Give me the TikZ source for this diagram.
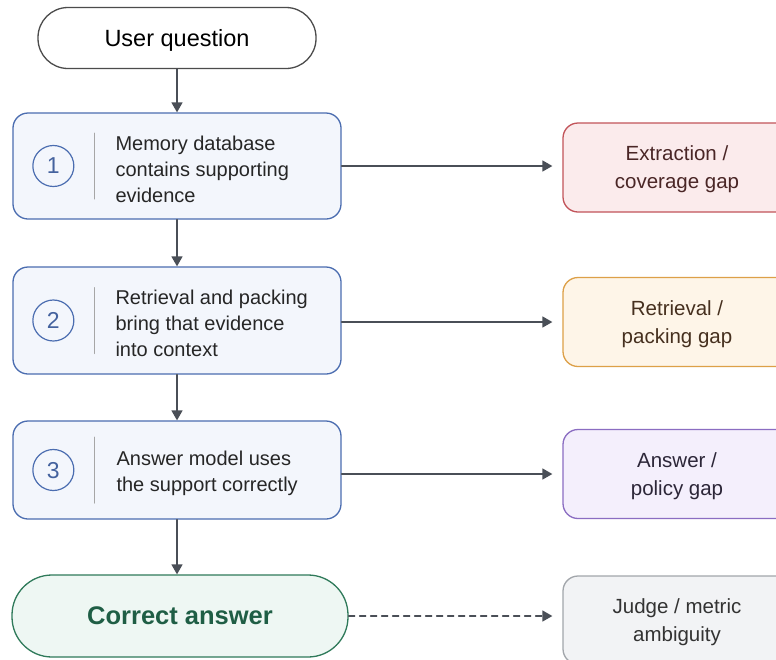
\documentclass[tikz,border=0pt]{standalone}
\usepackage{fontspec}
\setmainfont{Liberation Sans}
\usetikzlibrary{arrows.meta}
\definecolor{arrowgray}{HTML}{4A4F57}
\definecolor{stepblue}{HTML}{4B6DB0}
\definecolor{stepfill}{HTML}{F3F6FC}
\definecolor{okgreen}{HTML}{2F7A5A}
\definecolor{okfill}{HTML}{EEF7F3}
\definecolor{okText}{HTML}{1F5E45}
\definecolor{redline}{HTML}{C2545A}
\definecolor{redfill}{HTML}{FBEBEC}
\definecolor{redtext}{HTML}{4A2626}
\definecolor{orangeline}{HTML}{DDA048}
\definecolor{orangefill}{HTML}{FEF5E8}
\definecolor{orangetext}{HTML}{46301F}
\definecolor{purpleline}{HTML}{8B6DC2}
\definecolor{purplefill}{HTML}{F4EFFC}
\definecolor{purpletext}{HTML}{2C2638}
\definecolor{grayline}{HTML}{A2A6AB}
\definecolor{grayfill}{HTML}{F2F3F5}
\begin{document}
\begin{tikzpicture}[x=1pt, y=-1pt, line cap=round, line join=round, >={Triangle[length=10pt,width=11pt]}]
	\tikzset{
		stadium/.style={draw, line width=1.3pt, rounded corners=30pt, minimum width=278pt, minimum height=61pt, inner sep=0pt, text depth=0pt},
		stepbox/.style={draw=stepblue, fill=stepfill, line width=1.3pt, rounded corners=15pt, minimum width=328pt, inner sep=0pt},
		stepnum/.style={circle, draw=stepblue, line width=1.2pt, minimum size=41pt, inner sep=0pt, text depth=0pt, text=stepblue!90!black, font=\fontsize{23}{26}\selectfont},
		steptext/.style={anchor=west, align=left, text=black!85, font=\fontsize{20}{26}\selectfont, inner sep=0pt},
		gapbox/.style={draw, line width=1.3pt, rounded corners=15pt, minimum width=228pt, minimum height=89pt, align=center, inner sep=0pt, text depth=0pt, font=\fontsize{20.5}{28}\selectfont},
		flow/.style={->, draw=arrowgray, line width=1.5pt, color=arrowgray}
	}
	\useasboundingbox[fill=white] (0,0) rectangle (776,659);
	% main column
	\node[stadium, draw=black!70, fill=white, font=\fontsize{23.5}{28}\selectfont] (question) at (177,38) {User question};
	\node[stepbox, minimum height=106pt] (s1) at (177,166) {};
	\node[stepbox, minimum height=107pt] (s2) at (177,320.5) {};
	\node[stepbox, minimum height=98pt] (s3) at (177,470) {};
	\node[stadium, draw=okgreen, fill=okfill, minimum width=336pt, minimum height=82pt, rounded corners=40pt, text=okText, font=\bfseries\fontsize{25.5}{30}\selectfont] (answer) at (180,616) {Correct answer};
	% numbers, separators and texts
	\foreach \s/\n in {s1/1, s2/2, s3/3} {
		\node[stepnum] (c\n) at ([xshift=41pt]\s.west) {\n};
		\draw[black!35, line width=1pt] ([xshift=82pt, yshift=33pt]\s.west) -- ([xshift=82pt, yshift=-33pt]\s.west);
	}
	\node[steptext] (t1) at ([xshift=103pt, yshift=-3pt]s1.west) {Memory database\\contains supporting\\evidence};
	\node[steptext] (t2) at ([xshift=103pt, yshift=-3pt]s2.west) {Retrieval and packing\\bring that evidence\\into context};
	\node[steptext] (t3) at ([xshift=104pt, yshift=-3pt]s3.west) {Answer model uses\\the support correctly};
	% failure boxes
	\node[gapbox, draw=redline, fill=redfill, text=redtext] (g1) at (677,167.5) {Extraction /\\coverage gap};
	\node[gapbox, draw=orangeline, fill=orangefill, text=orangetext] (g2) at (677,322) {Retrieval /\\packing gap};
	\node[gapbox, draw=purpleline, fill=purplefill, text=purpletext] (g3) at (677,474) {Answer /\\policy gap};
	\node[gapbox, draw=grayline, fill=grayfill, text=black!80, minimum height=88pt] (g4) at (677,620) {Judge / metric\\ambiguity};
	% connectors
	\draw[flow] (question) -- (s1);
	\draw[flow] (s1) -- (s2);
	\draw[flow] (s2) -- (s3);
	\draw[flow] (s3.south) -- (s3.south |- answer.north);
	\draw[flow, shorten >=10pt] (s1.east) -- (s1.east -| g1.west);
	\draw[flow, shorten >=10pt] (s2.east |- g2.west) -- (g2.west);
	\draw[flow, shorten >=10pt] (s3.east |- g3.west) -- (g3.west);
	\draw[flow, dashed, dash pattern=on 6pt off 5pt, shorten >=10pt] (answer.east) -- (answer.east -| g4.west);
\end{tikzpicture}
\end{document}
